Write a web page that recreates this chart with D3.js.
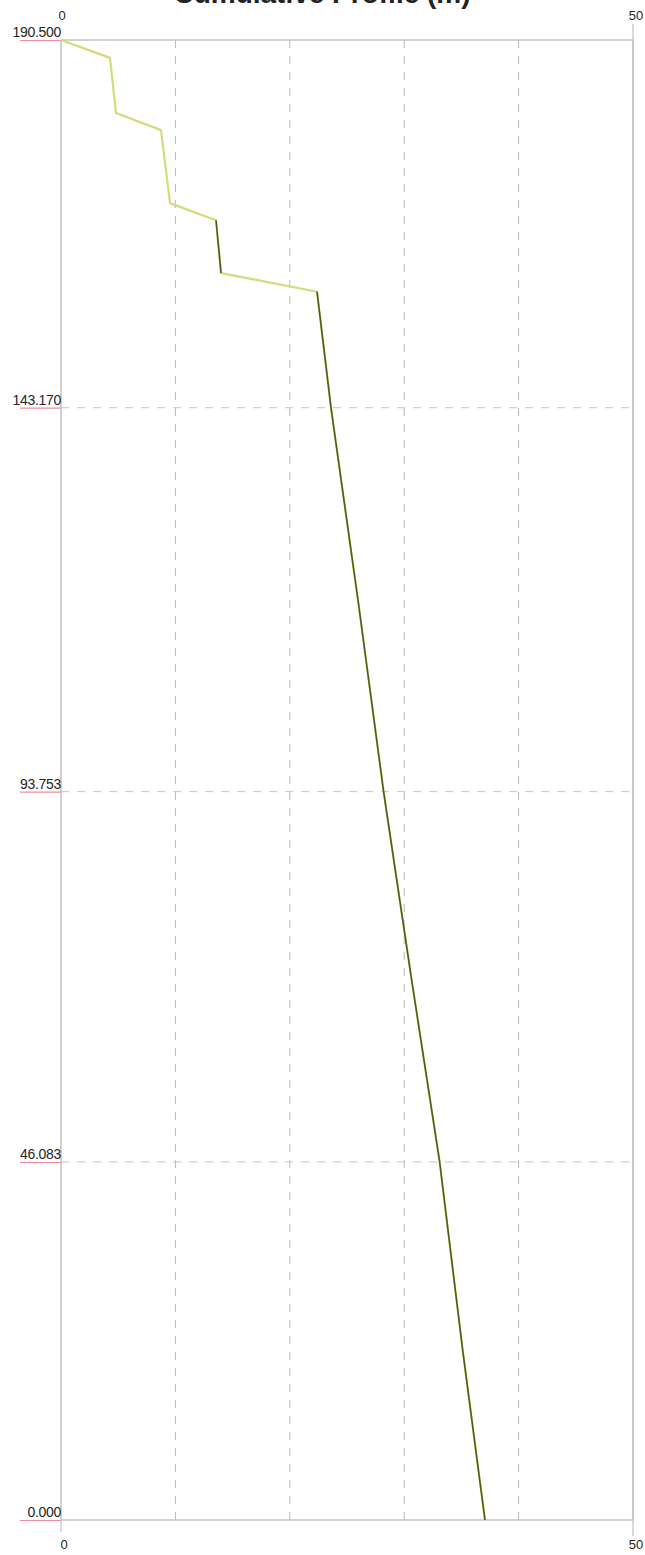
<!DOCTYPE html>
<html>
<head>
<meta charset="utf-8">
<script src="https://cdn.jsdelivr.net/npm/d3@7"></script>
<style>
  html, body { margin: 0; padding: 0; background: #fff; }
  svg { display: block; }
  text { font-family: "Liberation Sans", Arial, sans-serif; }
</style>
</head>
<body>
<svg id="chart" width="645" height="1555"></svg>
<script>
// Profile: horizontal value (0–50) against level (0–190.5)
const xTicks = [0, 50];
const xGrid = [10, 20, 30, 40];
const yTicks = [190.5, 143.17, 93.753, 46.083, 0];
const yTickLabels = ["190.500", "143.170", "93.753", "46.083", "0.000"];

// stepped upper section, then the long steady run
const profileX = [0, 4.28, 4.81, 8.74, 9.53, 13.55, 13.99, 22.38, 23.6, 26.0, 28.2, 30.6, 33.1, 35.1, 37.06];
const profileY = [190.5, 188.2, 181.1, 178.9, 169.5, 167.3, 160.5, 158.1, 143.17, 118.0, 93.753, 70.0, 46.083, 22.0, 0];

// darker overdrawn trace on the steep runs
const traceX1 = [13.55, 13.99];
const traceY1 = [167.3, 160.5];
const traceX2 = [22.38, 23.6, 26.0, 28.2, 30.6, 33.1, 35.1, 37.06];
const traceY2 = [158.1, 143.17, 118.0, 93.753, 70.0, 46.083, 22.0, 0];

const title = "Cumulative Profile (m)";

const svg = d3.select("#chart");
const mLeft = 61, mRight = 633, mTop = 40, mBottom = 1520;

const x = d3.scaleLinear().domain([0, 50]).range([mLeft, mRight]);
const y = d3.scaleLinear().domain([0, 190.5]).range([mBottom, mTop]);

// title sits above the page edge, only its foot shows
svg.append("text")
  .attr("x", 322).attr("y", 3)
  .attr("text-anchor", "middle")
  .attr("font-size", 28).attr("font-weight", "bold")
  .attr("fill", "#222")
  .text(title);

// vertical dashed grid
svg.append("g").selectAll("line").data(xGrid).join("line")
  .attr("x1", d => x(d)).attr("x2", d => x(d))
  .attr("y1", mTop).attr("y2", mBottom)
  .attr("stroke", "#b8b8b8").attr("stroke-width", 1)
  .attr("stroke-dasharray", "8,8");

// horizontal dashed grid
svg.append("g").selectAll("line").data(yTicks.slice(1, -1)).join("line")
  .attr("x1", mLeft).attr("x2", mRight)
  .attr("y1", d => y(d)).attr("y2", d => y(d))
  .attr("stroke", "#c4c4c4").attr("stroke-width", 1)
  .attr("stroke-dasharray", "8,8");

// frame
svg.append("rect")
  .attr("x", mLeft).attr("y", mTop)
  .attr("width", mRight - mLeft).attr("height", mBottom - mTop)
  .attr("fill", "none").attr("stroke", "#c2c2c2").attr("stroke-width", 1.5);

// edges extending toward the labels
svg.append("line")
  .attr("x1", mRight).attr("x2", mRight).attr("y1", mTop - 16).attr("y2", mBottom + 16)
  .attr("stroke", "#c2c2c2").attr("stroke-width", 1.2);
svg.append("line")
  .attr("x1", mLeft).attr("x2", mLeft).attr("y1", mBottom).attr("y2", mBottom + 12)
  .attr("stroke", "#c2c2c2").attr("stroke-width", 1.2);

// x tick labels, top and bottom
svg.append("g").selectAll("text").data(xTicks).join("text")
  .attr("x", d => x(d) + (d === 50 ? 3 : 1)).attr("y", 20)
  .attr("text-anchor", "middle").attr("font-size", 13).attr("fill", "#1e1e1e")
  .text(d => d);
svg.append("g").selectAll("text").data(xTicks).join("text")
  .attr("x", d => x(d) + 3).attr("y", 1549)
  .attr("text-anchor", "middle").attr("font-size", 13).attr("fill", "#1e1e1e")
  .text(d => d);

// y tick labels with pink underline
const yg = svg.append("g").selectAll("g").data(yTicks).join("g")
  .attr("transform", d => `translate(0,${y(d)})`);
yg.append("line")
  .attr("x1", 20).attr("x2", mLeft).attr("y1", 0.5).attr("y2", 0.5)
  .attr("stroke", "#f08ca0").attr("stroke-width", 1.2);
yg.append("text")
  .attr("x", mLeft).attr("y", -3)
  .attr("text-anchor", "end").attr("font-size", 14).attr("fill", "#262626")
  .attr("letter-spacing", -0.3)
  .text((d, i) => yTickLabels[i]);

const line = d3.line().x(d => x(d[0])).y(d => y(d[1]));

// main profile
svg.append("path")
  .datum(profileX.map((v, i) => [v, profileY[i]]))
  .attr("d", line)
  .attr("fill", "none").attr("stroke", "#d6da7a").attr("stroke-width", 2.2)
  .attr("stroke-linejoin", "round");

// darker trace over steep runs
[[traceX1, traceY1], [traceX2, traceY2]].forEach(([xs, ys]) => {
  svg.append("path")
    .datum(xs.map((v, i) => [v, ys[i]]))
    .attr("d", line)
    .attr("fill", "none").attr("stroke", "#4f5a1e").attr("stroke-width", 1.6)
    .attr("stroke-linejoin", "round");
});
</script>
</body>
</html>
